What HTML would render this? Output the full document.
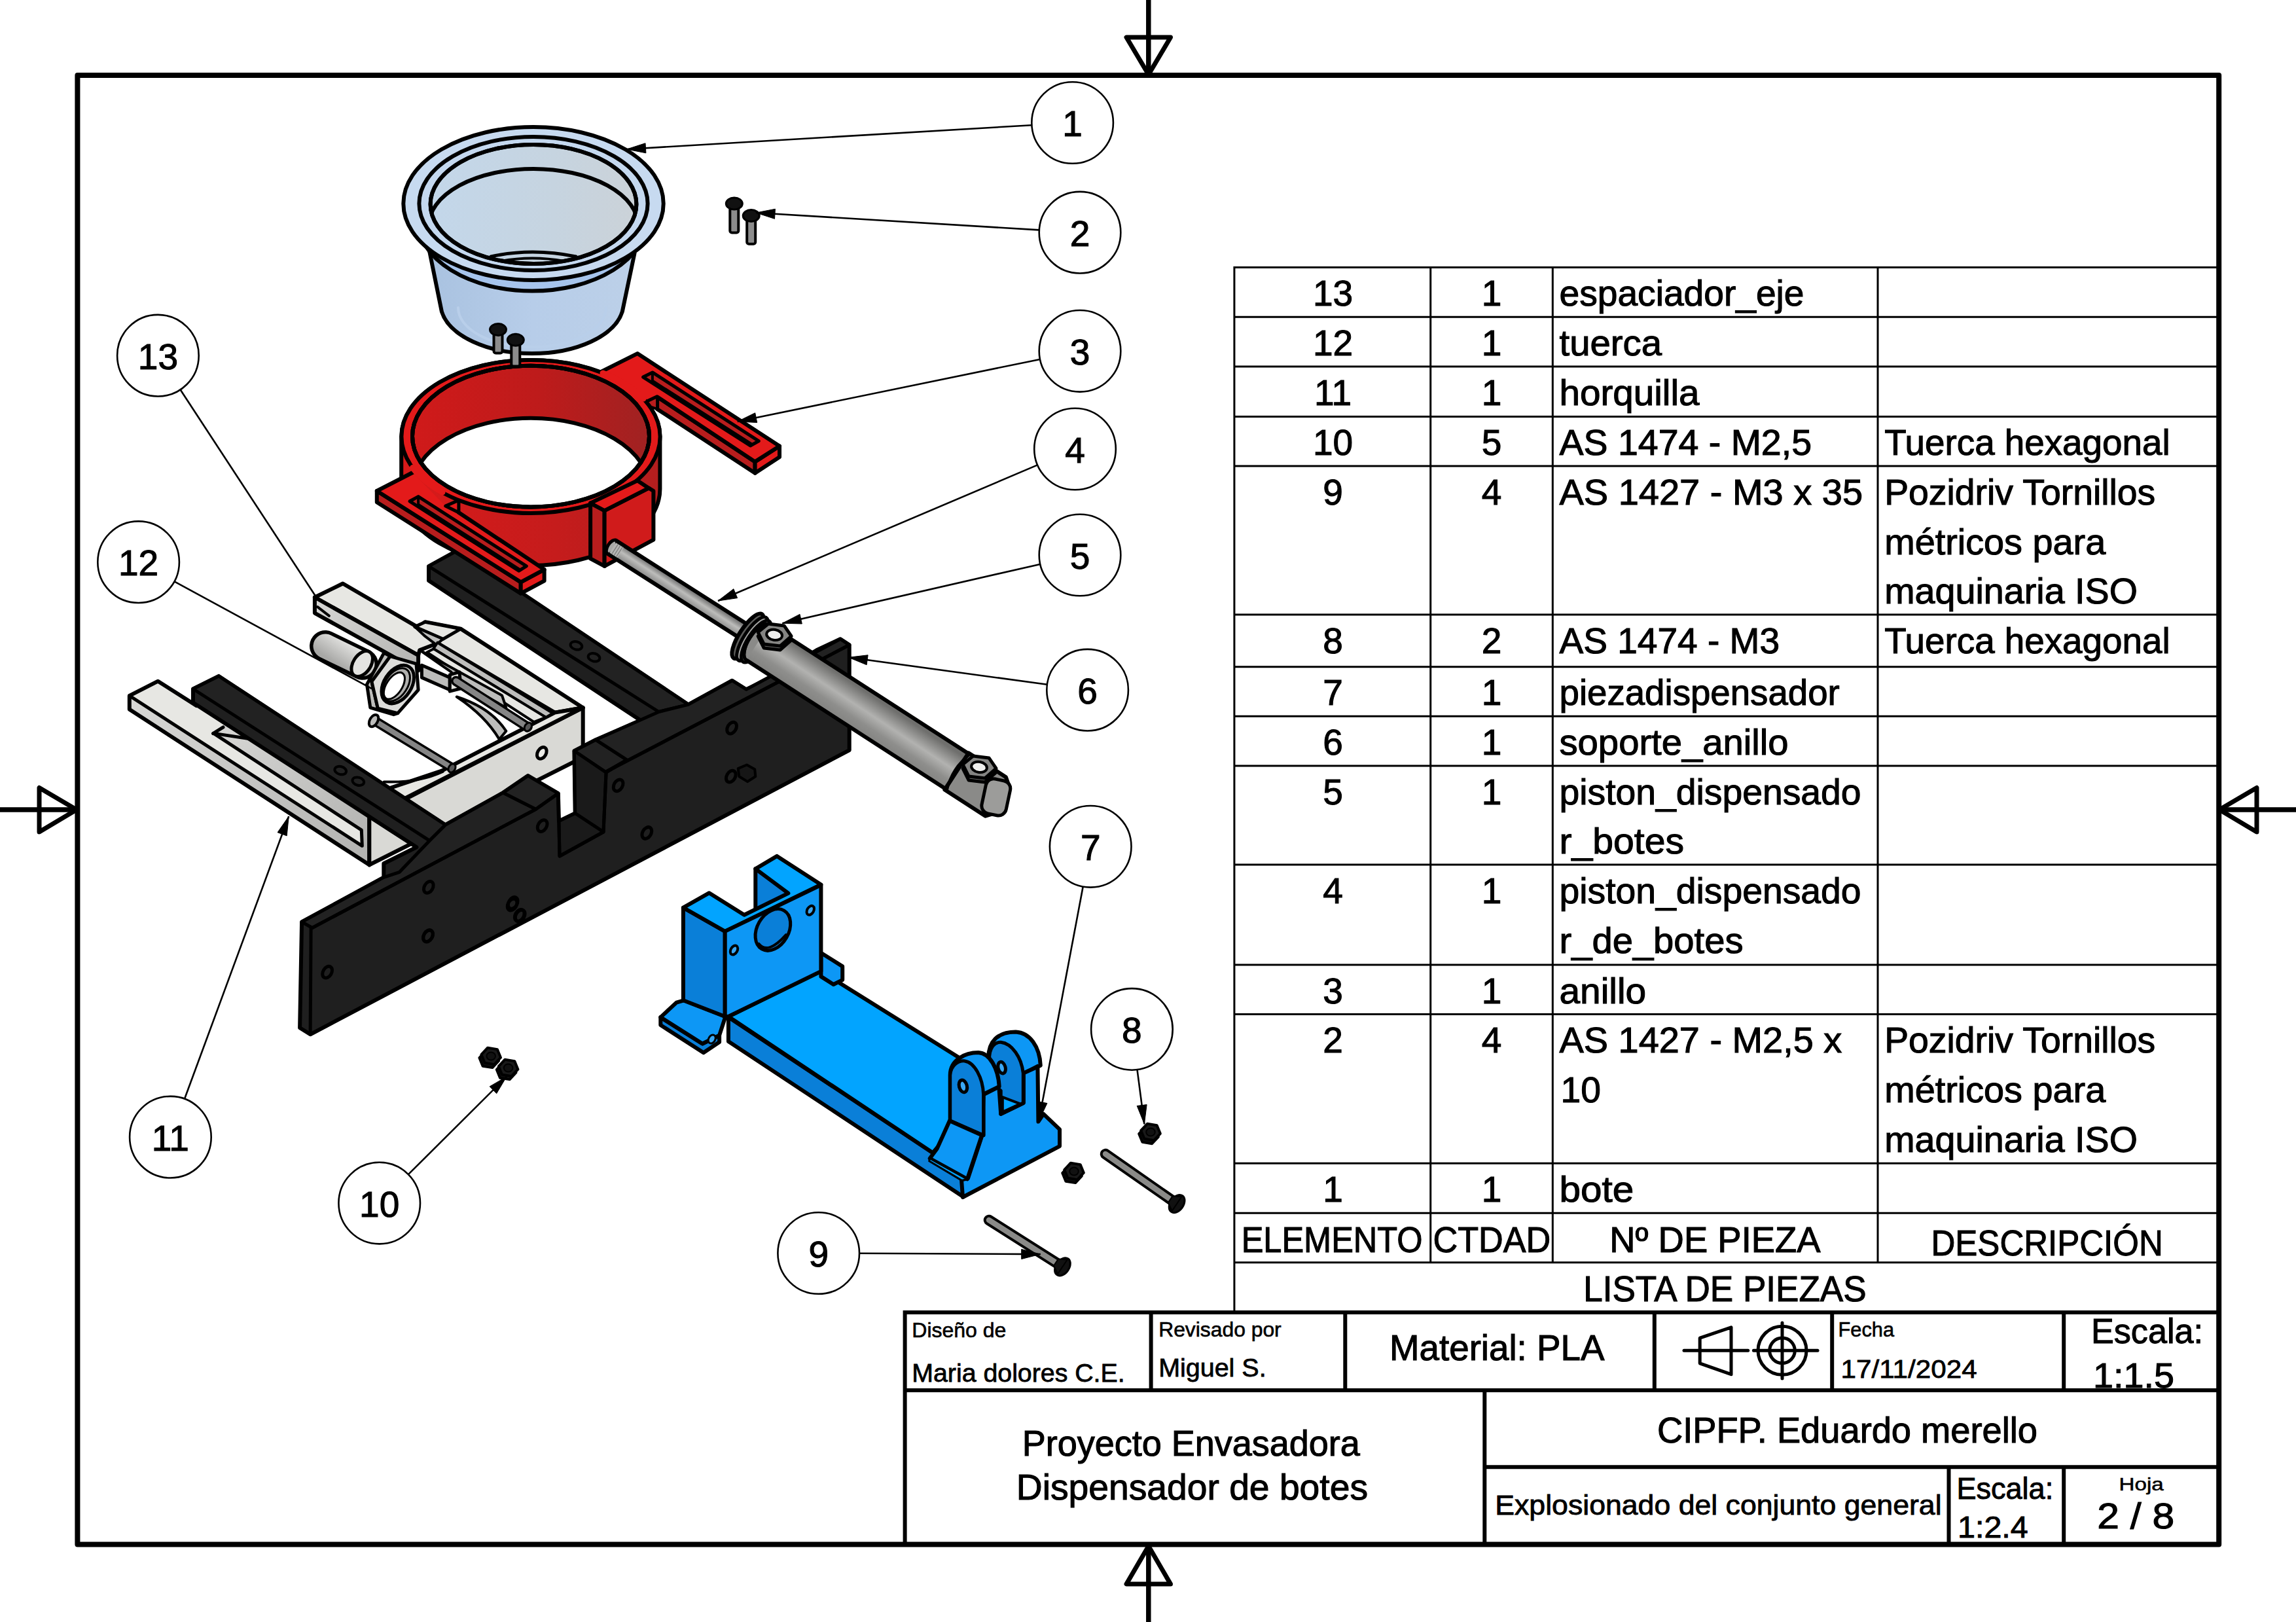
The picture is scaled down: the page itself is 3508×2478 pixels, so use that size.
<!DOCTYPE html><html><head><meta charset="utf-8"><title>Dispensador de botes</title>
<style>html,body{margin:0;padding:0;background:#fff}svg{display:block}text{font-family:"Liberation Sans",sans-serif;fill:#000;stroke:#000}</style></head><body>
<svg width="3508" height="2478" viewBox="0 0 3508 2478">
<rect width="3508" height="2478" fill="#fff"/>
<defs>
<linearGradient id="gCupIn" x1="0" x2="1" y1="0" y2="0"><stop offset="0" stop-color="#c3d7ea"/><stop offset="0.6" stop-color="#c6d4e0"/><stop offset="1" stop-color="#cbd2d8"/></linearGradient>
<linearGradient id="gCupBody" x1="0" x2="1" y1="0" y2="0"><stop offset="0" stop-color="#a9c2e0"/><stop offset="0.5" stop-color="#b7cde9"/><stop offset="1" stop-color="#bcd0e8"/></linearGradient>
<linearGradient id="gRedIn" x1="0" x2="1" y1="0" y2="0"><stop offset="0" stop-color="#d01a1a"/><stop offset="0.55" stop-color="#bd1b1b"/><stop offset="1" stop-color="#a02222"/></linearGradient>
<linearGradient id="gRedOut" x1="0" x2="1" y1="0" y2="0"><stop offset="0" stop-color="#d81a1a"/><stop offset="0.6" stop-color="#c51c1c"/><stop offset="1" stop-color="#b31e1e"/></linearGradient>
<linearGradient id="gCyl" gradientUnits="userSpaceOnUse" x1="1318" y1="1054" x2="1279" y2="1113"><stop offset="0" stop-color="#6f6f6d"/><stop offset="0.35" stop-color="#b2b2b0"/><stop offset="0.6" stop-color="#8e8e8c"/><stop offset="1" stop-color="#7a7a78"/></linearGradient>
<linearGradient id="gRod" gradientUnits="userSpaceOnUse" x1="1037" y1="889" x2="1024" y2="909"><stop offset="0" stop-color="#707070"/><stop offset="0.4" stop-color="#bdbdbb"/><stop offset="1" stop-color="#7c7c7c"/></linearGradient>
<linearGradient id="gGray" x1="0" x2="1" y1="0" y2="1"><stop offset="0" stop-color="#d8d8d6"/><stop offset="1" stop-color="#b2b2b0"/></linearGradient>
<linearGradient id="gSpacer" gradientUnits="userSpaceOnUse" x1="535" y1="975" x2="510" y2="1012"><stop offset="0" stop-color="#ededeb"/><stop offset="1" stop-color="#a8a8a6"/></linearGradient>
<clipPath id="cRingIn"><ellipse cx="811" cy="666.6" rx="181" ry="107.8"/></clipPath>
<clipPath id="cCupIn"><ellipse cx="815" cy="312" rx="157.4" ry="91"/></clipPath>
</defs>
<polygon points="197.8,1062.9 241.4,1040.7 620,1285 564.3,1321.3 197.8,1083.8" fill="#e7e7e3" stroke="none" stroke-width="0" stroke-linejoin="round" />
<polygon points="197.8,1062.9 553.3,1292.3 564.3,1299 564.3,1321.3 197.8,1083.8" fill="url(#gGray)" stroke="none" stroke-width="0" stroke-linejoin="round" />
<polygon points="326.3,1120.4 350,1100 564.3,1240 564.3,1299 552.3,1292.3 552.3,1268.2" fill="url(#gGray)" stroke="none" stroke-width="0" stroke-linejoin="round" />
<polyline points="326.3,1120.4 552.3,1268.2 553.3,1292.3 197.8,1062.9" fill="none" stroke="#000" stroke-width="5" stroke-linejoin="round" stroke-linecap="round" />
<polyline points="326.3,1120.4 378.6,1128.2" fill="none" stroke="#000" stroke-width="5" stroke-linejoin="round" stroke-linecap="round" />
<polyline points="325.5,1120.6 341,1111" fill="none" stroke="#000" stroke-width="5" stroke-linejoin="round" stroke-linecap="round" />
<polyline points="300,1078 241.4,1040.7 197.8,1062.9 197.8,1083.8 564.3,1321.3 564.3,1245" fill="none" stroke="#000" stroke-width="6" stroke-linejoin="round" stroke-linecap="round" />
<polygon points="890.7,1081.2 890.7,1157 564.3,1321.3 564.3,1249.2" fill="#d9d9d5" stroke="#000" stroke-width="6" stroke-linejoin="round" />
<ellipse cx="827.8" cy="1150.4" rx="6.5" ry="9.5" fill="#ecece8" stroke="#000" stroke-width="5" transform="rotate(30 827.8 1150.4)"/>
<polygon points="480.9,912.5 523.8,891.5 639.1,958.6 649.6,950.2 704.1,960.7 890.7,1081.2 847.7,1088.6 668.5,982.7 641.2,993.2 639.1,1001.2" fill="#e7e7e3" stroke="#000" stroke-width="6" stroke-linejoin="round" />
<polygon points="480.9,912.5 639.1,1001.2 639.1,1024.6 480.9,936.6" fill="url(#gGray)" stroke="#000" stroke-width="6" stroke-linejoin="round" />
<polyline points="485.1,927.2 502.9,940.8" fill="none" stroke="#000" stroke-width="4" stroke-linejoin="round" stroke-linecap="round" />
<polygon points="633.9,957.6 649.6,950.2 704.1,960.7 676.9,976.4" fill="#e7e7e3" stroke="#000" stroke-width="5" stroke-linejoin="round" />
<polygon points="633.9,957.6 676.9,976.4 666.4,984.8 649.6,972.2" fill="#bdbdbb" stroke="#000" stroke-width="4" stroke-linejoin="round" />
<path d="M890.7,1081.2 L618.2,1220.0 L586.7,1207.0 L674.8,1177.6 L847.7,1088.6 Z" fill="#e7e7e3" stroke="#000" stroke-width="6" stroke-linejoin="round" stroke-linecap="round" />
<path d="M697.8,1064.5 Q750.2,1081.2 773.3,1116.9 L762.8,1129.4 Q741.8,1093.8 697.8,1064.5 Z" fill="#bdbdbb" stroke="#000" stroke-width="4" stroke-linejoin="round" stroke-linecap="round" />
<path d="M586.7,1194.4 Q639.1,1196.5 676.9,1178.7" fill="none" stroke="#000" stroke-width="4" stroke-linejoin="round" stroke-linecap="round" />
<polygon points="668.5,981.7 844.5,1089.6 834.1,1095.9 662.2,991.1" fill="#bdbdbb" stroke="#000" stroke-width="4" stroke-linejoin="round" />
<polygon points="662.6,991.3 833.9,1095.9 815.6,1103.0 652.3,996.5" fill="#e7e7e3" stroke="#000" stroke-width="4" stroke-linejoin="round" />
<polygon points="641.2,993.2 767.0,1062.4 773.3,1081.2 699.9,1039.3 689.4,1026.7" fill="#bdbdbb" stroke="#000" stroke-width="4" stroke-linejoin="round" />
<polygon points="644.4,1016.2 687.3,1035.1 687.3,1054.0 644.4,1035.1" fill="#bdbdbb" stroke="#000" stroke-width="5" stroke-linejoin="round" />
<polygon points="687.3,1030.9 702.0,1026.7 704.1,1051.9 687.3,1056.1" fill="#e7e7e3" stroke="#000" stroke-width="5" stroke-linejoin="round" />
<line x1="696.8" y1="1040.4" x2="805.8" y2="1110.6" stroke="#000" stroke-width="15.5" stroke-linecap="round"/>
<line x1="696.8" y1="1040.4" x2="805.8" y2="1110.6" stroke="#858585" stroke-width="8.5" stroke-linecap="round"/>
<ellipse cx="806.8" cy="1110.6" rx="5" ry="7" fill="#555" stroke="#000" stroke-width="3" transform="rotate(30 806.8 1110.6)"/>
<line x1="574.1" y1="1102.2" x2="689.4" y2="1172.4" stroke="#000" stroke-width="15.0" stroke-linecap="round"/>
<line x1="574.1" y1="1102.2" x2="689.4" y2="1172.4" stroke="#858585" stroke-width="8" stroke-linecap="round"/>
<ellipse cx="690.5" cy="1173.5" rx="5" ry="7" fill="#555" stroke="#000" stroke-width="3" transform="rotate(30 690.5 1173.5)"/>
<ellipse cx="571.0" cy="1101.1" rx="6" ry="10" fill="#bdbdbb" stroke="#000" stroke-width="4" transform="rotate(30 571.0 1101.1)"/>
<line x1="497" y1="987" x2="553.9" y2="1014.7" stroke="#000" stroke-width="48" stroke-linecap="round"/>
<line x1="497" y1="987" x2="553.9" y2="1014.7" stroke="url(#gSpacer)" stroke-width="37" stroke-linecap="round"/>
<ellipse cx="553.2" cy="1014.1" rx="13.5" ry="21.5" fill="#e3e3e1" stroke="#000" stroke-width="5" transform="rotate(33 553.2 1014.1)"/>
<polygon points="560.5,1045.6 586.7,997.4 596.2,1002.6 567.9,1041.4 577.3,1082.3 607.7,1089.6 601.4,1091.7 565.8,1081.2" fill="#bdbdbb" stroke="#000" stroke-width="5" stroke-linejoin="round" />
<polygon points="596.2,1002.6 636.0,1014.1 639.1,1054.0 607.7,1089.6 577.3,1082.3 567.9,1041.4" fill="#dcdcda" stroke="#000" stroke-width="5" stroke-linejoin="round" />
<ellipse cx="607.7" cy="1045.6" rx="21" ry="32" fill="#c4c4c2" stroke="#000" stroke-width="5" transform="rotate(33 607.7 1045.6)"/>
<ellipse cx="605.6" cy="1046.0" rx="17" ry="28" fill="#b0b0ae" stroke="#000" stroke-width="3" transform="rotate(33 605.6 1046.0)"/>
<ellipse cx="602.4" cy="1047.7" rx="12" ry="23" fill="#fff" stroke="#000" stroke-width="3" transform="rotate(33 602.4 1047.7)"/>
<polygon points="461.1,1408.5 586.3,1340.3 586.3,1319.3 636.4,1294.3 295,1073.4 295,1052.5 334.2,1032.9 680.5,1260.2 768.6,1211.1 806.7,1185.1 852.8,1212.1 854,1254.5 878.7,1242.5 877.4,1147.2 910.2,1130.2 978.6,1100.5 655,887.1 655,865.1 699.5,840.7 1051.7,1076.4 1118.6,1039.7 1140.1,1053.2 1179.7,1035.1 1247.7,993.2 1283.9,976.2 1297.7,985.3 1297.7,1146.1 474.1,1580.3 458.1,1570.3" fill="#1f1f1f" stroke="#000" stroke-width="6" stroke-linejoin="round" />
<polygon points="655,865.1 699.5,840.7 1051.7,1076.4 1006.6,1087.5" fill="#222222" stroke="#000" stroke-width="5" stroke-linejoin="round" />
<polygon points="295,1052.5 334.2,1032.9 680.5,1260.2 656.4,1284.3" fill="#222222" stroke="#000" stroke-width="5" stroke-linejoin="round" />
<polygon points="461.1,1408.5 586.3,1340.3 610.4,1332.3 656.4,1284.3 680.5,1260.2 768.6,1211.1 818.7,1236.2 477.1,1417.5" fill="#222222" stroke="#000" stroke-width="5" stroke-linejoin="round" />
<polygon points="768.6,1211.1 806.7,1185.1 852.8,1212.1 818.7,1236.2" fill="#222222" stroke="#000" stroke-width="5" stroke-linejoin="round" />
<polygon points="877.4,1147.2 910.2,1130.2 957.8,1160.8 926.1,1180.1" fill="#222222" stroke="#000" stroke-width="5" stroke-linejoin="round" />
<polygon points="910.2,1130.2 1006.6,1087.5 1051.7,1076.4 1118.6,1039.7 1140.1,1053.2 1283.9,976.2 1297.7,985.3 926.1,1179 957.8,1160.8" fill="#222222" stroke="#000" stroke-width="5" stroke-linejoin="round" />
<polygon points="877.4,1147.2 926.1,1180.1 922,1271 878.7,1242.5" fill="#1a1a1a" stroke="#000" stroke-width="5" stroke-linejoin="round" />
<polygon points="854,1254.5 878.7,1242.5 922,1271 855,1308" fill="#1a1a1a" stroke="#000" stroke-width="5" stroke-linejoin="round" />
<polyline points="477.1,1417.5 818.7,1236.2 852.8,1212.1 855,1308 922,1271 926.1,1179 1297.7,985.3" fill="none" stroke="#000" stroke-width="5" stroke-linejoin="round" stroke-linecap="round" />
<polyline points="475.1,1418 474.1,1580.3" fill="none" stroke="#000" stroke-width="5" stroke-linejoin="round" stroke-linecap="round" />
<ellipse cx="500.1" cy="1485.2" rx="6.5" ry="9.5" fill="none" stroke="#000" stroke-width="5" transform="rotate(30 500.1 1485.2)"/>
<ellipse cx="654" cy="1429.7" rx="6.5" ry="9.5" fill="none" stroke="#000" stroke-width="5" transform="rotate(30 654 1429.7)"/>
<ellipse cx="782.6" cy="1382" rx="6.5" ry="9.5" fill="none" stroke="#000" stroke-width="5" transform="rotate(30 782.6 1382)"/>
<ellipse cx="794.7" cy="1399" rx="6.5" ry="9.5" fill="none" stroke="#000" stroke-width="5" transform="rotate(30 794.7 1399)"/>
<ellipse cx="944.6" cy="1199.8" rx="6.5" ry="9.5" fill="none" stroke="#000" stroke-width="5" transform="rotate(30 944.6 1199.8)"/>
<ellipse cx="988.3" cy="1272.5" rx="6.5" ry="9.5" fill="none" stroke="#000" stroke-width="5" transform="rotate(30 988.3 1272.5)"/>
<ellipse cx="1118.1" cy="1112.1" rx="6.5" ry="9.5" fill="none" stroke="#000" stroke-width="5" transform="rotate(30 1118.1 1112.1)"/>
<ellipse cx="1116.8" cy="1186.2" rx="6.5" ry="9.5" fill="none" stroke="#000" stroke-width="5" transform="rotate(30 1116.8 1186.2)"/>
<ellipse cx="654.8" cy="1355.4" rx="6.5" ry="9.5" fill="none" stroke="#000" stroke-width="5" transform="rotate(30 654.8 1355.4)"/>
<ellipse cx="654.0" cy="1430.1" rx="6.5" ry="9.5" fill="none" stroke="#000" stroke-width="5" transform="rotate(30 654.0 1430.1)"/>
<ellipse cx="828.7" cy="1261.6" rx="6.5" ry="9.5" fill="none" stroke="#000" stroke-width="5" transform="rotate(30 828.7 1261.6)"/>
<ellipse cx="783.7" cy="1379.4" rx="6.5" ry="9.5" fill="none" stroke="#000" stroke-width="5" transform="rotate(30 783.7 1379.4)"/>
<ellipse cx="793.7" cy="1398.4" rx="6.5" ry="9.5" fill="none" stroke="#000" stroke-width="5" transform="rotate(30 793.7 1398.4)"/>
<ellipse cx="880.4" cy="986.3" rx="9" ry="6" fill="none" stroke="#000" stroke-width="4" transform="rotate(15 880.4 986.3)"/>
<ellipse cx="907.5" cy="1004.3" rx="9" ry="6" fill="none" stroke="#000" stroke-width="4" transform="rotate(15 907.5 1004.3)"/>
<ellipse cx="520.2" cy="1177.1" rx="9" ry="6" fill="none" stroke="#000" stroke-width="4" transform="rotate(15 520.2 1177.1)"/>
<ellipse cx="547.3" cy="1193.7" rx="9" ry="6" fill="none" stroke="#000" stroke-width="4" transform="rotate(15 547.3 1193.7)"/>
<polygon points="1127.7,1174.1 1141.0,1168.5 1153.2,1175.2 1154.3,1186.3 1142.1,1194.1 1129.3,1186.3" fill="#161616" stroke="#000" stroke-width="4" stroke-linejoin="round" />
<polygon points="1004.1,606.2 1153.6,705.4 1153.6,722.7 1004.1,624.9" fill="#b81d1d" stroke="#000" stroke-width="6" stroke-linejoin="round" />
<polygon points="1153.6,705.4 1191.0,681.5 1191.0,698.2 1153.6,722.7" fill="#e31a1a" stroke="#000" stroke-width="6" stroke-linejoin="round" />
<polygon points="904.9,574.6 973.9,540.1 1191.0,681.5 1153.6,705.4 1004.1,606.2 985.4,614.9 991.2,640.7 933.7,606.2" fill="#e31a1a" stroke="#000" stroke-width="6" stroke-linejoin="round" />
<polygon points="985.4,614.9 1004.1,606.2 1004.1,624.9 991.2,620.6" fill="#b81d1d" stroke="#000" stroke-width="4" stroke-linejoin="round" />
<polygon points="982.6,576.1 996.9,568.9 1159.3,673.8 1146.4,681.0" fill="#b81d1d" stroke="#000" stroke-width="5" stroke-linejoin="round" />
<polyline points="996.9,569.4 996.9,581.8 1149.3,679.0" fill="none" stroke="#000" stroke-width="4" stroke-linejoin="round" stroke-linecap="round" />
<path d="M613.2,667 A197.6,117 0 0 1 1008.4,667 L1008.4,747 A197.6,117 0 0 1 613.2,747 Z" fill="url(#gRedOut)" stroke="#000" stroke-width="6" stroke-linejoin="round" stroke-linecap="round" />
<ellipse cx="811" cy="667" rx="197.6" ry="117" fill="#e31a1a" stroke="#000" stroke-width="6"/>
<path d="M921,570 A197.6,117 0 0 1 983,609" fill="none" stroke="#e31a1a" stroke-width="9" stroke-linejoin="round" stroke-linecap="round" />
<ellipse cx="811" cy="666.6" rx="181" ry="107.8" fill="url(#gRedIn)" stroke="#000" stroke-width="6"/>
<g clip-path="url(#cRingIn)">
<ellipse cx="811" cy="746.6" rx="181" ry="107.8" fill="#fff" stroke="#000" stroke-width="6"/>
</g>
<ellipse cx="811" cy="666.6" rx="181" ry="107.8" fill="none" stroke="#000" stroke-width="6"/>
<polygon points="575.8,750.0 795.7,889.4 795.7,906.6 575.8,767.2" fill="#b81d1d" stroke="#000" stroke-width="6" stroke-linejoin="round" />
<polygon points="795.7,889.4 831.6,870.1 831.6,887.4 795.7,906.6" fill="#e31a1a" stroke="#000" stroke-width="6" stroke-linejoin="round" />
<polygon points="575.8,750.0 630.4,722.1 680.7,773.0 700.9,783.0 831.6,870.1 795.7,889.4" fill="#e31a1a" stroke="none" stroke-width="0" stroke-linejoin="round" />
<polygon points="680.7,773.0 700.9,764.3 700.9,783.0" fill="#e31a1a" stroke="#000" stroke-width="5" stroke-linejoin="round" />
<polyline points="631.3,721.5 575.8,750.0 795.7,889.4 831.6,870.1 700.9,783.0" fill="none" stroke="#000" stroke-width="6" stroke-linejoin="round" stroke-linecap="round" />
<path d="M630.4,714.5 A197.6,117 0 0 0 676,752" fill="none" stroke="#e31a1a" stroke-width="9" stroke-linejoin="round" stroke-linecap="round" />
<ellipse cx="811" cy="666.6" rx="181" ry="107.8" fill="none" stroke="#000" stroke-width="6"/>
<polygon points="626.1,765.8 639.1,758.6 804.3,864.9 792.8,872.1" fill="#b81d1d" stroke="#000" stroke-width="5" stroke-linejoin="round" />
<polyline points="639.1,759.2 639.1,770.7 794.3,870.1" fill="none" stroke="#000" stroke-width="4" stroke-linejoin="round" stroke-linecap="round" />
<polygon points="902.1,768.6 923.6,780.1 923.6,864.9 902.1,853.4" fill="#b81d1d" stroke="#000" stroke-width="6" stroke-linejoin="round" />
<polygon points="923.6,780.1 991.2,745.7 998.4,750.0 998.4,824.7 923.6,864.9" fill="#d01b1b" stroke="#000" stroke-width="6" stroke-linejoin="round" />
<polygon points="902.1,768.6 973.9,734.2 991.2,745.7 923.6,780.1" fill="#e31a1a" stroke="#000" stroke-width="6" stroke-linejoin="round" />
<polygon points="941.0,825.6 1154.3,961.7 1141.4,981.9 928.1,845.8" fill="url(#gRod)" stroke="#000" stroke-width="6" stroke-linejoin="round" />
<ellipse cx="934.5" cy="835.7" rx="6" ry="12" fill="#a9a9a7" stroke="#000" stroke-width="5" transform="rotate(32.53787556807482 934.5 835.7)"/>
<polygon points="941.1,829.2 952.9,836.7 943.2,851.9 931.4,844.4" fill="#b5b5b3" stroke="none" stroke-width="0" stroke-linejoin="round" />
<line x1="944.4" y1="831.4" x2="934.7" y2="846.5" stroke="#777" stroke-width="1.2" stroke-linecap="butt"/>
<line x1="947.8" y1="833.5" x2="938.1" y2="848.7" stroke="#777" stroke-width="1.2" stroke-linecap="butt"/>
<line x1="951.2" y1="835.7" x2="941.5" y2="850.8" stroke="#777" stroke-width="1.2" stroke-linecap="butt"/>
<ellipse cx="1142.6" cy="971.8" rx="13" ry="40" fill="#5e5e5c" stroke="#000" stroke-width="6" transform="rotate(32.85437420687591 1142.6 971.8)"/>
<ellipse cx="1149.4" cy="976.2" rx="13" ry="39" fill="#a6a6a4" stroke="#000" stroke-width="5" transform="rotate(32.85437420687591 1149.4 976.2)"/>
<ellipse cx="1155.2" cy="980.0" rx="13" ry="37" fill="#6c6c6a" stroke="#000" stroke-width="5" transform="rotate(32.85437420687591 1155.2 980.0)"/>
<ellipse cx="1157.8" cy="981.6" rx="14" ry="32" fill="#8a8a88" stroke="#000" stroke-width="5" transform="rotate(32.85437420687591 1157.8 981.6)"/>
<polygon points="1175.1,954.7 1479.2,1151.1 1444.5,1204.9 1140.4,1008.5" fill="url(#gCyl)" stroke="none" stroke-width="0" stroke-linejoin="round" />
<line x1="1175.1" y1="954.7" x2="1479.2" y2="1151.1" stroke="#000" stroke-width="6" stroke-linecap="butt"/>
<line x1="1140.4" y1="1008.5" x2="1444.5" y2="1204.9" stroke="#000" stroke-width="6" stroke-linecap="butt"/>
<path d="M1175.1,954.7 A14,32 32.9 0 0 1140.4,1008.5" fill="none" stroke="#000" stroke-width="5" stroke-linejoin="round" stroke-linecap="round" />
<polygon points="1479.8,1150.3 1536.9,1187.2 1542.7,1204.0 1523.2,1241.4 1505.6,1246.7 1443.4,1206.5" fill="#8a8a88" stroke="#000" stroke-width="6" stroke-linejoin="round" />
<rect x="1502.8" y="1190.9" width="38" height="54" rx="12" fill="#9c9c9a" stroke="#000" stroke-width="5" transform="rotate(12 1521.8 1217.9)"/>
<path d="M1481.7,1152.7 Q1454.3,1173.1 1447.0,1206.5" fill="none" stroke="#000" stroke-width="4" stroke-linejoin="round" stroke-linecap="round" />
<polygon points="1158.1,971.9 1174.1,958.9 1198.1,961.9 1209.1,977.9 1192.1,992.9 1167.1,989.9" fill="#6e6e6c" stroke="#000" stroke-width="5" stroke-linejoin="round" />
<polygon points="1158.1,965.9 1174.1,952.9 1198.1,955.9 1209.1,971.9 1192.1,986.9 1167.1,983.9" fill="#858583" stroke="#000" stroke-width="5" stroke-linejoin="round" />
<ellipse cx="1183.1" cy="969.9" rx="12" ry="8" fill="#efefed" stroke="#000" stroke-width="4" transform="rotate(10 1183.1 969.9)"/>
<polygon points="1471.0,1173.9 1487.0,1160.9 1511.0,1163.9 1522.0,1179.9 1505.0,1194.9 1480.0,1191.9" fill="#6e6e6c" stroke="#000" stroke-width="5" stroke-linejoin="round" />
<polygon points="1471.0,1167.9 1487.0,1154.9 1511.0,1157.9 1522.0,1173.9 1505.0,1188.9 1480.0,1185.9" fill="#858583" stroke="#000" stroke-width="5" stroke-linejoin="round" />
<ellipse cx="1496.0" cy="1171.9" rx="12" ry="8" fill="#efefed" stroke="#000" stroke-width="4" transform="rotate(10 1496.0 1171.9)"/>
<path d="M656.2,384 L674.9,476.2 A140,77 0 0 0 950.8,476.2 L969.5,387 Z" fill="url(#gCupBody)" stroke="#000" stroke-width="6" stroke-linejoin="round" stroke-linecap="round" />
<path d="M700,470 A113,60 0 0 0 926,470" fill="none" stroke="#b9cfea" stroke-width="4" stroke-linejoin="round" stroke-linecap="round" />
<ellipse cx="813" cy="336" rx="175" ry="108.6" fill="#a6c4ec" stroke="#000" stroke-width="6"/>
<ellipse cx="815" cy="311" rx="198.7" ry="117" fill="#c7daf0" stroke="#000" stroke-width="6"/>
<ellipse cx="815" cy="311" rx="174.6" ry="102" fill="#c4d8ef" stroke="#000" stroke-width="6"/>
<ellipse cx="815" cy="312" rx="157.4" ry="91" fill="url(#gCupIn)" stroke="#000" stroke-width="6"/>
<g clip-path="url(#cCupIn)">
<path d="M655,345 A158,86 0 0 1 975,345" fill="none" stroke="#000" stroke-width="6" stroke-linejoin="round" stroke-linecap="round" />
<path d="M750,392 Q813,378 880,392" fill="none" stroke="#000" stroke-width="5" stroke-linejoin="round" stroke-linecap="round" />
<path d="M765,399 Q813,390 862,399" fill="none" stroke="#000" stroke-width="4" stroke-linejoin="round" stroke-linecap="round" />
</g>
<ellipse cx="815" cy="312" rx="157.4" ry="91" fill="none" stroke="#000" stroke-width="6"/>
<rect x="754.5" y="503.5" width="13" height="36.0" rx="3" fill="#8c8c8c" stroke="#000" stroke-width="4"/>
<ellipse cx="761" cy="503.5" rx="12.5" ry="9" fill="#111" stroke="#000" stroke-width="3"/>
<rect x="781.3" y="519.3" width="13" height="40.30000000000007" rx="3" fill="#8c8c8c" stroke="#000" stroke-width="4"/>
<ellipse cx="787.8" cy="519.3" rx="12.5" ry="9" fill="#111" stroke="#000" stroke-width="3"/>
<rect x="1115.3" y="311" width="13" height="44.5" rx="3" fill="#8c8c8c" stroke="#000" stroke-width="4"/>
<ellipse cx="1121.8" cy="311" rx="12.5" ry="9" fill="#111" stroke="#000" stroke-width="3"/>
<rect x="1141.2" y="329.6" width="13" height="43.099999999999966" rx="3" fill="#8c8c8c" stroke="#000" stroke-width="4"/>
<ellipse cx="1147.7" cy="329.6" rx="12.5" ry="9" fill="#111" stroke="#000" stroke-width="3"/>
<polygon points="1009.3,1554.1 1073.2,1594.5 1099.1,1581.7 1099.1,1592.0 1074.9,1608.3 1009.3,1566.1" fill="#0a7fd8" stroke="#000" stroke-width="6" stroke-linejoin="round" />
<polygon points="1009.3,1554.1 1033.5,1531.6 1045.6,1528.2 1108.4,1553.0 1099.1,1581.7 1073.2,1594.5" fill="#0d97f5" stroke="#000" stroke-width="6" stroke-linejoin="round" />
<ellipse cx="1087.7" cy="1587.5" rx="5" ry="7" fill="#3aa8f5" stroke="#000" stroke-width="3" transform="rotate(30 1087.7 1587.5)"/>
<polygon points="1112.9,1554.1 1425.3,1761.2 1471.9,1800.9 1471.9,1828.5 1112.9,1591.0" fill="#0a7fd8" stroke="#000" stroke-width="6" stroke-linejoin="round" />
<polygon points="1112.9,1553.0 1253.4,1483.3 1518.5,1649.0 1425.3,1761.2" fill="#02a4ff" stroke="#000" stroke-width="6" stroke-linejoin="round" />
<polygon points="1254.4,1455.7 1287.2,1476.4 1287.2,1497.1 1273.4,1504.0 1254.4,1491.9" fill="#0d97f5" stroke="#000" stroke-width="6" stroke-linejoin="round" />
<polygon points="1154.3,1327.3 1204.4,1360.1 1204.4,1365.3 1154.3,1390.8" fill="#0a7fd8" stroke="#000" stroke-width="6" stroke-linejoin="round" />
<polygon points="1043.9,1386.7 1107.7,1422.9 1107.7,1553.0 1043.9,1528.2" fill="#0a7fd8" stroke="#000" stroke-width="6" stroke-linejoin="round" />
<polygon points="1043.9,1386.7 1083.6,1364.2 1137.1,1397.7 1204.4,1364.6 1154.3,1327.3 1187.1,1307.9 1254.4,1351.4 1107.7,1422.9" fill="#02a4ff" stroke="#000" stroke-width="6" stroke-linejoin="round" />
<polygon points="1107.7,1422.9 1254.4,1352.1 1254.4,1484.0 1112.9,1553.0 1107.7,1553.0" fill="#0d97f5" stroke="#000" stroke-width="6" stroke-linejoin="round" />
<ellipse cx="1180.9" cy="1420.5" rx="24" ry="34" fill="#0a7fd8" stroke="#000" stroke-width="5" transform="rotate(30 1180.9 1420.5)"/>
<path d="M1159.5,1441.9 Q1173.3,1459.1 1200.9,1428.1" fill="none" stroke="#000" stroke-width="4" stroke-linejoin="round" stroke-linecap="round" />
<ellipse cx="1121.5" cy="1451.5" rx="5" ry="7.5" fill="#3aa8f5" stroke="#000" stroke-width="4" transform="rotate(30 1121.5 1451.5)"/>
<ellipse cx="1238.2" cy="1390.8" rx="5" ry="7.5" fill="#3aa8f5" stroke="#000" stroke-width="4" transform="rotate(30 1238.2 1390.8)"/>
<polygon points="1502.6,1672.2 1526.3,1660.3 1529.2,1701.8 1563.7,1685.0 1563.7,1638.6 1585.4,1626.8 1586.4,1713.6 1594.3,1701.8 1619.0,1725.4 1619.0,1751.1 1471.0,1829.0 1469.0,1802.4 1478.9,1800.4 1500.6,1734.3" fill="#0d97f5" stroke="#000" stroke-width="6" stroke-linejoin="round" />
<path d="M1510.5,1622.9 C1507.5,1589.3 1526.3,1576.5 1551.9,1576.5 C1573.6,1577.5 1588.4,1599.2 1589.8,1627.8 L1563.7,1639.6 1563.7,1685.0 1529.2,1701.8 1529.2,1658.4 1510.5,1650.5 Z" fill="#0d97f5" stroke="#000" stroke-width="6" stroke-linejoin="round" stroke-linecap="round" />
<path d="M1511.5,1650.5 L1511.5,1618.9 C1511.5,1599.2 1520.3,1591.7 1529.2,1592.3 C1546.0,1594.3 1560.8,1615.0 1563.3,1639.6 L1563.3,1685.0 1529.2,1701.8 1529.2,1666.3 Z" fill="#0a7fd8" stroke="#000" stroke-width="5" stroke-linejoin="round" stroke-linecap="round" />
<polygon points="1531.8,1676.1 1558.8,1686.4 1531.8,1698.8" fill="#02a4ff" stroke="#000" stroke-width="4" stroke-linejoin="round" />
<ellipse cx="1530.6" cy="1631.1" rx="5.5" ry="9" fill="#3aa8f5" stroke="#000" stroke-width="5" transform="rotate(-15 1530.6 1631.1)"/>
<line x1="1563.7" y1="1639.2" x2="1586.4" y2="1627.2" stroke="#000" stroke-width="4" stroke-linecap="butt"/>
<path d="M1451.7,1642.6 C1451.7,1618.9 1475.0,1608.1 1494.7,1608.1 C1512.4,1609.0 1525.3,1632.7 1526.7,1659.9 L1502.6,1671.8 1502.6,1734.3 1451.7,1712.0 Z" fill="#0d97f5" stroke="#000" stroke-width="6" stroke-linejoin="round" stroke-linecap="round" />
<path d="M1451.7,1712.0 L1451.7,1642.6 C1452.9,1626.8 1465.1,1619.9 1474.0,1620.9 C1488.8,1622.9 1501.6,1646.5 1502.6,1671.8 L1502.6,1734.3 Z" fill="#0a7fd8" stroke="#000" stroke-width="5" stroke-linejoin="round" stroke-linecap="round" />
<ellipse cx="1471.4" cy="1659.4" rx="6" ry="9.5" fill="#3aa8f5" stroke="#000" stroke-width="5" transform="rotate(-15 1471.4 1659.4)"/>
<line x1="1502.6" y1="1671.8" x2="1526.7" y2="1659.9" stroke="#000" stroke-width="4" stroke-linecap="butt"/>
<polygon points="1450.9,1712.2 1500.2,1734.3 1477.9,1801.4 1420.7,1769.8 1431.6,1755.0" fill="#0d97f5" stroke="#000" stroke-width="6" stroke-linejoin="round" />
<polygon points="1420.7,1769.8 1477.9,1801.4 1469.4,1803.4 1419.7,1773.8" fill="#02a4ff" stroke="#000" stroke-width="3" stroke-linejoin="round" />
<polygon points="762.0,1620.7 752.3,1631.1 737.6,1628.7 732.4,1616.1 742.1,1605.7 756.8,1608.1" fill="#0e0e0e" stroke="#000" stroke-width="4" stroke-linejoin="round" />
<polygon points="765.0,1615.7 755.3,1626.1 740.6,1623.7 735.4,1611.1 745.1,1600.7 759.8,1603.1" fill="#191919" stroke="#000" stroke-width="4" stroke-linejoin="round" />
<ellipse cx="750.2" cy="1613.4" rx="6.75" ry="6.0" fill="#111" stroke="#000" stroke-width="2"/>
<polygon points="788.4,1638.7 778.7,1649.1 764.0,1646.7 758.8,1634.1 768.5,1623.7 783.2,1626.1" fill="#0e0e0e" stroke="#000" stroke-width="4" stroke-linejoin="round" />
<polygon points="791.4,1633.7 781.7,1644.1 767.0,1641.7 761.8,1629.1 771.5,1618.7 786.2,1621.1" fill="#191919" stroke="#000" stroke-width="4" stroke-linejoin="round" />
<ellipse cx="776.6" cy="1631.4" rx="6.75" ry="6.0" fill="#111" stroke="#000" stroke-width="2"/>
<polygon points="1769.8,1736.8 1760.1,1747.2 1745.4,1744.8 1740.2,1732.2 1749.9,1721.8 1764.6,1724.2" fill="#0e0e0e" stroke="#000" stroke-width="4" stroke-linejoin="round" />
<polygon points="1772.8,1731.8 1763.1,1742.2 1748.4,1739.8 1743.2,1727.2 1752.9,1716.8 1767.6,1719.2" fill="#191919" stroke="#000" stroke-width="4" stroke-linejoin="round" />
<ellipse cx="1758" cy="1729.5" rx="6.75" ry="6.0" fill="#111" stroke="#000" stroke-width="2"/>
<polygon points="1652.8,1796.7 1643.1,1807.1 1628.4,1804.7 1623.2,1792.1 1632.9,1781.7 1647.6,1784.1" fill="#0e0e0e" stroke="#000" stroke-width="4" stroke-linejoin="round" />
<polygon points="1655.8,1791.7 1646.1,1802.1 1631.4,1799.7 1626.2,1787.1 1635.9,1776.7 1650.6,1779.1" fill="#191919" stroke="#000" stroke-width="4" stroke-linejoin="round" />
<ellipse cx="1641" cy="1789.4" rx="6.75" ry="6.0" fill="#111" stroke="#000" stroke-width="2"/>
<line x1="1689" y1="1763" x2="1798.1" y2="1839.1" stroke="#000" stroke-width="16.5" stroke-linecap="round"/>
<line x1="1689" y1="1763" x2="1798.1" y2="1839.1" stroke="#8a8a88" stroke-width="8.5" stroke-linecap="round"/>
<ellipse cx="1798.1" cy="1839.1" rx="10" ry="15" fill="#111" stroke="#000" stroke-width="3" transform="rotate(35 1798.1 1839.1)"/>
<polygon points="1784.78,1837.36 1791.4999999999998,1827.3999999999999 1805.3799999999999,1828.31 1790.82,1849.8899999999999" fill="#111" stroke="#000" stroke-width="2" stroke-linejoin="round" />
<line x1="1511" y1="1864" x2="1623.4" y2="1935.3" stroke="#000" stroke-width="16.5" stroke-linecap="round"/>
<line x1="1511" y1="1864" x2="1623.4" y2="1935.3" stroke="#8a8a88" stroke-width="8.5" stroke-linecap="round"/>
<ellipse cx="1623.4" cy="1935.3" rx="10" ry="15" fill="#111" stroke="#000" stroke-width="3" transform="rotate(35 1623.4 1935.3)"/>
<polygon points="1610.0800000000002,1933.56 1616.8,1923.6 1630.68,1924.51 1616.1200000000001,1946.09" fill="#111" stroke="#000" stroke-width="2" stroke-linejoin="round" />
<line x1="1576.4" y1="191.2" x2="957.5" y2="228" stroke="#000" stroke-width="2.6" stroke-linecap="butt"/>
<polygon points="957.5,228 986.0,218.8 986.9,233.8" fill="#000" stroke="#000" stroke-width="1" stroke-linejoin="round" />
<ellipse cx="1638.6" cy="187.5" rx="62.3" ry="62.3" fill="#fff" stroke="#000" stroke-width="2.6"/>
<text x="1638.6" y="208.0" font-size="55.0" stroke-width="1.10" text-anchor="middle">1</text>
<line x1="1587.8" y1="351.4" x2="1155" y2="325" stroke="#000" stroke-width="2.6" stroke-linecap="butt"/>
<polygon points="1155,325 1184.4,319.3 1183.5,334.3" fill="#000" stroke="#000" stroke-width="1" stroke-linejoin="round" />
<ellipse cx="1650" cy="355.2" rx="62.3" ry="62.3" fill="#fff" stroke="#000" stroke-width="2.6"/>
<text x="1650.0" y="375.7" font-size="55.0" stroke-width="1.10" text-anchor="middle">2</text>
<line x1="1589.0" y1="548.9" x2="1126.8" y2="644" stroke="#000" stroke-width="2.6" stroke-linecap="butt"/>
<polygon points="1126.8,644 1153.7,630.8 1156.7,645.5" fill="#000" stroke="#000" stroke-width="1" stroke-linejoin="round" />
<ellipse cx="1650" cy="536.3" rx="62.3" ry="62.3" fill="#fff" stroke="#000" stroke-width="2.6"/>
<text x="1650.0" y="556.8" font-size="55.0" stroke-width="1.10" text-anchor="middle">3</text>
<line x1="1585.2" y1="710.4" x2="1097" y2="918" stroke="#000" stroke-width="2.6" stroke-linecap="butt"/>
<polygon points="1097,918 1120.8,899.7 1126.6,913.6" fill="#000" stroke="#000" stroke-width="1" stroke-linejoin="round" />
<ellipse cx="1642.5" cy="686" rx="62.3" ry="62.3" fill="#fff" stroke="#000" stroke-width="2.6"/>
<text x="1642.5" y="706.5" font-size="55.0" stroke-width="1.10" text-anchor="middle">4</text>
<line x1="1589.3" y1="861.9" x2="1195.4" y2="952.2" stroke="#000" stroke-width="2.6" stroke-linecap="butt"/>
<polygon points="1195.4,952.2 1222.0,938.4 1225.3,953.0" fill="#000" stroke="#000" stroke-width="1" stroke-linejoin="round" />
<ellipse cx="1650" cy="848" rx="62.3" ry="62.3" fill="#fff" stroke="#000" stroke-width="2.6"/>
<text x="1650.0" y="868.5" font-size="55.0" stroke-width="1.10" text-anchor="middle">5</text>
<line x1="1599.9" y1="1045.8" x2="1296.4" y2="1004.3" stroke="#000" stroke-width="2.6" stroke-linecap="butt"/>
<polygon points="1296.4,1004.3 1326.1,1000.8 1324.1,1015.7" fill="#000" stroke="#000" stroke-width="1" stroke-linejoin="round" />
<ellipse cx="1661.6" cy="1054.2" rx="62.3" ry="62.3" fill="#fff" stroke="#000" stroke-width="2.6"/>
<text x="1661.6" y="1074.7" font-size="55.0" stroke-width="1.10" text-anchor="middle">6</text>
<line x1="1654.7" y1="1354.5" x2="1587.2" y2="1712.6" stroke="#000" stroke-width="2.6" stroke-linecap="butt"/>
<polygon points="1587.2,1712.6 1585.2,1682.7 1599.9,1685.5" fill="#000" stroke="#000" stroke-width="1" stroke-linejoin="round" />
<ellipse cx="1666.2" cy="1293.3" rx="62.3" ry="62.3" fill="#fff" stroke="#000" stroke-width="2.6"/>
<text x="1666.2" y="1313.8" font-size="55.0" stroke-width="1.10" text-anchor="middle">7</text>
<line x1="1737.5" y1="1634.2" x2="1748.4" y2="1717.3" stroke="#000" stroke-width="2.6" stroke-linecap="butt"/>
<polygon points="1748.4,1717.3 1737.2,1689.5 1752.1,1687.6" fill="#000" stroke="#000" stroke-width="1" stroke-linejoin="round" />
<ellipse cx="1729.4" cy="1572.4" rx="62.3" ry="62.3" fill="#fff" stroke="#000" stroke-width="2.6"/>
<text x="1729.4" y="1592.9" font-size="55.0" stroke-width="1.10" text-anchor="middle">8</text>
<line x1="1313.0" y1="1914.8" x2="1589.7" y2="1916.1" stroke="#000" stroke-width="2.6" stroke-linecap="butt"/>
<polygon points="1589.7,1916.1 1560.7,1923.5 1560.7,1908.5" fill="#000" stroke="#000" stroke-width="1" stroke-linejoin="round" />
<ellipse cx="1250.7" cy="1914.5" rx="62.3" ry="62.3" fill="#fff" stroke="#000" stroke-width="2.6"/>
<text x="1250.7" y="1935.0" font-size="55.0" stroke-width="1.10" text-anchor="middle">9</text>
<line x1="623.9" y1="1794.2" x2="774" y2="1644.8" stroke="#000" stroke-width="2.6" stroke-linecap="butt"/>
<polygon points="774,1644.8 758.7,1670.6 748.2,1659.9" fill="#000" stroke="#000" stroke-width="1" stroke-linejoin="round" />
<ellipse cx="579.7" cy="1838.1" rx="62.3" ry="62.3" fill="#fff" stroke="#000" stroke-width="2.6"/>
<text x="579.7" y="1858.6" font-size="55.0" stroke-width="1.10" text-anchor="middle">10</text>
<line x1="282.0" y1="1678.8" x2="441.2" y2="1247.1" stroke="#000" stroke-width="2.6" stroke-linecap="butt"/>
<polygon points="441.2,1247.1 438.2,1276.9 424.1,1271.7" fill="#000" stroke="#000" stroke-width="1" stroke-linejoin="round" />
<ellipse cx="260.4" cy="1737.2" rx="62.3" ry="62.3" fill="#fff" stroke="#000" stroke-width="2.6"/>
<text x="260.4" y="1757.7" font-size="55.0" stroke-width="1.10" text-anchor="middle">11</text>
<line x1="266.4" y1="888.4" x2="569" y2="1052.7" stroke="#000" stroke-width="2.6" stroke-linecap="butt"/>
<ellipse cx="211.6" cy="858.7" rx="62.3" ry="62.3" fill="#fff" stroke="#000" stroke-width="2.6"/>
<text x="211.6" y="879.2" font-size="55.0" stroke-width="1.10" text-anchor="middle">12</text>
<line x1="275.5" y1="595.3" x2="483.6" y2="913" stroke="#000" stroke-width="2.6" stroke-linecap="butt"/>
<ellipse cx="241.4" cy="543.2" rx="62.3" ry="62.3" fill="#fff" stroke="#000" stroke-width="2.6"/>
<text x="241.4" y="563.7" font-size="55.0" stroke-width="1.10" text-anchor="middle">13</text>
<rect x="118.4" y="115" width="3271.8" height="2244.4" fill="none" stroke="#000" stroke-width="8" stroke-linejoin="round"/>
<line x1="1754.8" y1="0" x2="1754.8" y2="115" stroke="#000" stroke-width="7.5" stroke-linecap="butt"/>
<polygon points="1721,57 1788.5,57 1754.8,114" fill="none" stroke="#000" stroke-width="7" stroke-linejoin="round" />
<line x1="1754.8" y1="2478" x2="1754.8" y2="2359" stroke="#000" stroke-width="7.5" stroke-linecap="butt"/>
<polygon points="1721,2420 1788.5,2420 1754.8,2362" fill="none" stroke="#000" stroke-width="7" stroke-linejoin="round" />
<line x1="0" y1="1237" x2="118" y2="1237" stroke="#000" stroke-width="7.5" stroke-linecap="butt"/>
<polygon points="60,1203.5 60,1271 117,1237" fill="none" stroke="#000" stroke-width="7" stroke-linejoin="round" />
<line x1="3508" y1="1237" x2="3390" y2="1237" stroke="#000" stroke-width="7.5" stroke-linecap="butt"/>
<polygon points="3448,1203.5 3448,1271 3391,1237" fill="none" stroke="#000" stroke-width="7" stroke-linejoin="round" />
<line x1="1885.9" y1="408.6" x2="3388" y2="408.6" stroke="#000" stroke-width="3" stroke-linecap="butt"/>
<line x1="1885.9" y1="484.3" x2="3388" y2="484.3" stroke="#000" stroke-width="3" stroke-linecap="butt"/>
<line x1="1885.9" y1="559.9" x2="3388" y2="559.9" stroke="#000" stroke-width="3" stroke-linecap="butt"/>
<line x1="1885.9" y1="636.5" x2="3388" y2="636.5" stroke="#000" stroke-width="3" stroke-linecap="butt"/>
<line x1="1885.9" y1="712.1" x2="3388" y2="712.1" stroke="#000" stroke-width="3" stroke-linecap="butt"/>
<line x1="1885.9" y1="938.9" x2="3388" y2="938.9" stroke="#000" stroke-width="3" stroke-linecap="butt"/>
<line x1="1885.9" y1="1018.7" x2="3388" y2="1018.7" stroke="#000" stroke-width="3" stroke-linecap="butt"/>
<line x1="1885.9" y1="1094.3" x2="3388" y2="1094.3" stroke="#000" stroke-width="3" stroke-linecap="butt"/>
<line x1="1885.9" y1="1169.9" x2="3388" y2="1169.9" stroke="#000" stroke-width="3" stroke-linecap="butt"/>
<line x1="1885.9" y1="1321.1" x2="3388" y2="1321.1" stroke="#000" stroke-width="3" stroke-linecap="butt"/>
<line x1="1885.9" y1="1474" x2="3388" y2="1474" stroke="#000" stroke-width="3" stroke-linecap="butt"/>
<line x1="1885.9" y1="1549.5" x2="3388" y2="1549.5" stroke="#000" stroke-width="3" stroke-linecap="butt"/>
<line x1="1885.9" y1="1777.2" x2="3388" y2="1777.2" stroke="#000" stroke-width="3" stroke-linecap="butt"/>
<line x1="1885.9" y1="1853.3" x2="3388" y2="1853.3" stroke="#000" stroke-width="3" stroke-linecap="butt"/>
<line x1="1885.9" y1="1928.7" x2="3388" y2="1928.7" stroke="#000" stroke-width="3" stroke-linecap="butt"/>
<line x1="1885.9" y1="407.1" x2="1885.9" y2="2005.5" stroke="#000" stroke-width="3" stroke-linecap="butt"/>
<line x1="2185.7" y1="407.1" x2="2185.7" y2="1928.7" stroke="#000" stroke-width="3" stroke-linecap="butt"/>
<line x1="2372.3" y1="407.1" x2="2372.3" y2="1928.7" stroke="#000" stroke-width="3" stroke-linecap="butt"/>
<line x1="2869" y1="407.1" x2="2869" y2="1928.7" stroke="#000" stroke-width="3" stroke-linecap="butt"/>
<text x="2036.5" y="467.3" font-size="55.0" stroke-width="1.10" text-anchor="middle">13</text>
<text x="2279.0" y="467.3" font-size="55.0" stroke-width="1.10" text-anchor="middle">1</text>
<text x="2382.5" y="467.3" font-size="55.0" stroke-width="1.10" text-anchor="start" textLength="374.0" lengthAdjust="spacingAndGlyphs">espaciador_eje</text>
<text x="2036.5" y="543.0" font-size="55.0" stroke-width="1.10" text-anchor="middle">12</text>
<text x="2279.0" y="543.0" font-size="55.0" stroke-width="1.10" text-anchor="middle">1</text>
<text x="2382.5" y="543.0" font-size="55.0" stroke-width="1.10" text-anchor="start" textLength="156.5" lengthAdjust="spacingAndGlyphs">tuerca</text>
<text x="2036.5" y="618.6" font-size="55.0" stroke-width="1.10" text-anchor="middle">11</text>
<text x="2279.0" y="618.6" font-size="55.0" stroke-width="1.10" text-anchor="middle">1</text>
<text x="2382.5" y="618.6" font-size="55.0" stroke-width="1.10" text-anchor="start" textLength="214.0" lengthAdjust="spacingAndGlyphs">horquilla</text>
<text x="2036.5" y="695.2" font-size="55.0" stroke-width="1.10" text-anchor="middle">10</text>
<text x="2279.0" y="695.2" font-size="55.0" stroke-width="1.10" text-anchor="middle">5</text>
<text x="2382.5" y="695.2" font-size="55.0" stroke-width="1.10" text-anchor="start" textLength="385.5" lengthAdjust="spacingAndGlyphs">AS 1474 - M2,5</text>
<text x="2879.2" y="695.2" font-size="55.0" stroke-width="1.10" text-anchor="start" textLength="436.4" lengthAdjust="spacingAndGlyphs">Tuerca hexagonal</text>
<text x="2036.5" y="770.8" font-size="55.0" stroke-width="1.10" text-anchor="middle">9</text>
<text x="2279.0" y="770.8" font-size="55.0" stroke-width="1.10" text-anchor="middle">4</text>
<text x="2382.5" y="770.8" font-size="55.0" stroke-width="1.10" text-anchor="start" textLength="463.6" lengthAdjust="spacingAndGlyphs">AS 1427 - M3 x 35</text>
<text x="2879.2" y="770.8" font-size="55.0" stroke-width="1.10" text-anchor="start" textLength="414.0" lengthAdjust="spacingAndGlyphs">Pozidriv Tornillos</text>
<text x="2879.2" y="846.6" font-size="55.0" stroke-width="1.10" text-anchor="start" textLength="338.0" lengthAdjust="spacingAndGlyphs">métricos para</text>
<text x="2879.2" y="922.4" font-size="55.0" stroke-width="1.10" text-anchor="start" textLength="386.8" lengthAdjust="spacingAndGlyphs">maquinaria ISO</text>
<text x="2036.5" y="997.6" font-size="55.0" stroke-width="1.10" text-anchor="middle">8</text>
<text x="2279.0" y="997.6" font-size="55.0" stroke-width="1.10" text-anchor="middle">2</text>
<text x="2382.5" y="997.6" font-size="55.0" stroke-width="1.10" text-anchor="start" textLength="336.6" lengthAdjust="spacingAndGlyphs">AS 1474 - M3</text>
<text x="2879.2" y="997.6" font-size="55.0" stroke-width="1.10" text-anchor="start" textLength="436.4" lengthAdjust="spacingAndGlyphs">Tuerca hexagonal</text>
<text x="2036.5" y="1077.4" font-size="55.0" stroke-width="1.10" text-anchor="middle">7</text>
<text x="2279.0" y="1077.4" font-size="55.0" stroke-width="1.10" text-anchor="middle">1</text>
<text x="2382.5" y="1077.4" font-size="55.0" stroke-width="1.10" text-anchor="start" textLength="428.3" lengthAdjust="spacingAndGlyphs">piezadispensador</text>
<text x="2036.5" y="1153.0" font-size="55.0" stroke-width="1.10" text-anchor="middle">6</text>
<text x="2279.0" y="1153.0" font-size="55.0" stroke-width="1.10" text-anchor="middle">1</text>
<text x="2382.5" y="1153.0" font-size="55.0" stroke-width="1.10" text-anchor="start" textLength="350.0" lengthAdjust="spacingAndGlyphs">soporte_anillo</text>
<text x="2036.5" y="1228.6" font-size="55.0" stroke-width="1.10" text-anchor="middle">5</text>
<text x="2279.0" y="1228.6" font-size="55.0" stroke-width="1.10" text-anchor="middle">1</text>
<text x="2382.5" y="1228.6" font-size="55.0" stroke-width="1.10" text-anchor="start" textLength="461.0" lengthAdjust="spacingAndGlyphs">piston_dispensado</text>
<text x="2382.5" y="1304.4" font-size="55.0" stroke-width="1.10" text-anchor="start" textLength="190.5" lengthAdjust="spacingAndGlyphs">r_botes</text>
<text x="2036.5" y="1379.8" font-size="55.0" stroke-width="1.10" text-anchor="middle">4</text>
<text x="2279.0" y="1379.8" font-size="55.0" stroke-width="1.10" text-anchor="middle">1</text>
<text x="2382.5" y="1379.8" font-size="55.0" stroke-width="1.10" text-anchor="start" textLength="461.0" lengthAdjust="spacingAndGlyphs">piston_dispensado</text>
<text x="2382.5" y="1455.6" font-size="55.0" stroke-width="1.10" text-anchor="start" textLength="281.0" lengthAdjust="spacingAndGlyphs">r_de_botes</text>
<text x="2036.5" y="1532.7" font-size="55.0" stroke-width="1.10" text-anchor="middle">3</text>
<text x="2279.0" y="1532.7" font-size="55.0" stroke-width="1.10" text-anchor="middle">1</text>
<text x="2382.5" y="1532.7" font-size="55.0" stroke-width="1.10" text-anchor="start" textLength="132.7" lengthAdjust="spacingAndGlyphs">anillo</text>
<text x="2036.5" y="1608.2" font-size="55.0" stroke-width="1.10" text-anchor="middle">2</text>
<text x="2279.0" y="1608.2" font-size="55.0" stroke-width="1.10" text-anchor="middle">4</text>
<text x="2382.5" y="1608.2" font-size="55.0" stroke-width="1.10" text-anchor="start" textLength="431.7" lengthAdjust="spacingAndGlyphs">AS 1427 - M2,5 x</text>
<text x="2384.6" y="1684.0" font-size="55.0" stroke-width="1.10" text-anchor="start" textLength="61.4" lengthAdjust="spacingAndGlyphs">10</text>
<text x="2879.2" y="1608.2" font-size="55.0" stroke-width="1.10" text-anchor="start" textLength="414.0" lengthAdjust="spacingAndGlyphs">Pozidriv Tornillos</text>
<text x="2879.2" y="1684.0" font-size="55.0" stroke-width="1.10" text-anchor="start" textLength="338.0" lengthAdjust="spacingAndGlyphs">métricos para</text>
<text x="2879.2" y="1759.8" font-size="55.0" stroke-width="1.10" text-anchor="start" textLength="386.8" lengthAdjust="spacingAndGlyphs">maquinaria ISO</text>
<text x="2036.5" y="1835.9" font-size="55.0" stroke-width="1.10" text-anchor="middle">1</text>
<text x="2279.0" y="1835.9" font-size="55.0" stroke-width="1.10" text-anchor="middle">1</text>
<text x="2382.5" y="1835.9" font-size="55.0" stroke-width="1.10" text-anchor="start" textLength="113.7" lengthAdjust="spacingAndGlyphs">bote</text>
<text x="1896.7" y="1912.7" font-size="55.0" stroke-width="1.10" text-anchor="start" textLength="276.8" lengthAdjust="spacingAndGlyphs">ELEMENTO</text>
<text x="2189.6" y="1912.7" font-size="55.0" stroke-width="1.10" text-anchor="start" textLength="179.6" lengthAdjust="spacingAndGlyphs">CTDAD</text>
<text x="2459.3" y="1912.7" font-size="55.0" stroke-width="1.10" text-anchor="start" textLength="322.3" lengthAdjust="spacingAndGlyphs">Nº DE PIEZA</text>
<text x="2950.5" y="1917.9" font-size="55.0" stroke-width="1.10" text-anchor="start" textLength="354.3" lengthAdjust="spacingAndGlyphs">DESCRIPCIÓN</text>
<text x="2419.2" y="1987.8" font-size="55.0" stroke-width="1.10" text-anchor="start" textLength="432.4" lengthAdjust="spacingAndGlyphs">LISTA DE PIEZAS</text>
<line x1="1382.6" y1="2005" x2="3390" y2="2005" stroke="#000" stroke-width="6" stroke-linecap="butt"/>
<line x1="1382.6" y1="2002" x2="1382.6" y2="2359.4" stroke="#000" stroke-width="6" stroke-linecap="butt"/>
<line x1="1382.6" y1="2124" x2="3390" y2="2124" stroke="#000" stroke-width="6" stroke-linecap="butt"/>
<line x1="1758.6" y1="2005" x2="1758.6" y2="2124" stroke="#000" stroke-width="6" stroke-linecap="butt"/>
<line x1="2055.3" y1="2005" x2="2055.3" y2="2124" stroke="#000" stroke-width="6" stroke-linecap="butt"/>
<line x1="2527.8" y1="2005" x2="2527.8" y2="2124" stroke="#000" stroke-width="6" stroke-linecap="butt"/>
<line x1="2799.2" y1="2005" x2="2799.2" y2="2124" stroke="#000" stroke-width="6" stroke-linecap="butt"/>
<line x1="3153.2" y1="2005" x2="3153.2" y2="2124" stroke="#000" stroke-width="6" stroke-linecap="butt"/>
<line x1="2268.3" y1="2124" x2="2268.3" y2="2359.4" stroke="#000" stroke-width="6" stroke-linecap="butt"/>
<line x1="2268.3" y1="2241.3" x2="3390" y2="2241.3" stroke="#000" stroke-width="6" stroke-linecap="butt"/>
<line x1="2977.5" y1="2241.3" x2="2977.5" y2="2359.4" stroke="#000" stroke-width="6" stroke-linecap="butt"/>
<line x1="3153.2" y1="2241.3" x2="3153.2" y2="2359.4" stroke="#000" stroke-width="6" stroke-linecap="butt"/>
<text x="1393.3" y="2042.5" font-size="31.6" stroke-width="0.63" text-anchor="start" textLength="144.1" lengthAdjust="spacingAndGlyphs">Diseño de</text>
<text x="1393.3" y="2110.5" font-size="39.7" stroke-width="0.79" text-anchor="start" textLength="325.3" lengthAdjust="spacingAndGlyphs">Maria dolores C.E.</text>
<text x="1770.2" y="2041.6" font-size="31.6" stroke-width="0.63" text-anchor="start" textLength="187.5" lengthAdjust="spacingAndGlyphs">Revisado por</text>
<text x="1770.2" y="2103.2" font-size="39.7" stroke-width="0.79" text-anchor="start" textLength="164.4" lengthAdjust="spacingAndGlyphs">Miguel S.</text>
<text x="2123.0" y="2077.5" font-size="56.0" stroke-width="1.12" text-anchor="start" textLength="328.4" lengthAdjust="spacingAndGlyphs">Material: PLA</text>
<text x="2808.5" y="2041.7" font-size="31.0" stroke-width="0.62" text-anchor="start" textLength="85.5" lengthAdjust="spacingAndGlyphs">Fecha</text>
<text x="2812.6" y="2104.9" font-size="39.7" stroke-width="0.79" text-anchor="start" textLength="208.0" lengthAdjust="spacingAndGlyphs">17/11/2024</text>
<text x="3195.0" y="2052.0" font-size="54.0" stroke-width="1.08" text-anchor="start" textLength="171.0" lengthAdjust="spacingAndGlyphs">Escala:</text>
<text x="3198.0" y="2120.0" font-size="54.0" stroke-width="1.08" text-anchor="start" textLength="124.0" lengthAdjust="spacingAndGlyphs">1:1.5</text>
<text x="1561.8" y="2223.7" font-size="55.0" stroke-width="1.10" text-anchor="start" textLength="516.0" lengthAdjust="spacingAndGlyphs">Proyecto Envasadora</text>
<text x="1552.8" y="2291.2" font-size="55.0" stroke-width="1.10" text-anchor="start" textLength="537.2" lengthAdjust="spacingAndGlyphs">Dispensador de botes</text>
<text x="2532.0" y="2203.6" font-size="56.0" stroke-width="1.12" text-anchor="start" textLength="581.0" lengthAdjust="spacingAndGlyphs">CIPFP. Eduardo merello</text>
<text x="2284.3" y="2314.0" font-size="43.3" stroke-width="0.87" text-anchor="start" textLength="682.3" lengthAdjust="spacingAndGlyphs">Explosionado del conjunto general</text>
<text x="2989.4" y="2290.0" font-size="45.3" stroke-width="0.91" text-anchor="start" textLength="147.8" lengthAdjust="spacingAndGlyphs">Escala:</text>
<text x="2991.0" y="2349.0" font-size="45.3" stroke-width="0.91" text-anchor="start" textLength="107.7" lengthAdjust="spacingAndGlyphs">1:2.4</text>
<text x="3237.6" y="2276.5" font-size="28.5" stroke-width="0.57" text-anchor="start" textLength="68.2" lengthAdjust="spacingAndGlyphs">Hoja</text>
<text x="3204.2" y="2334.6" font-size="56.0" stroke-width="1.12" text-anchor="start" textLength="118.0" lengthAdjust="spacingAndGlyphs">2 / 8</text>
<line x1="2573" y1="2063.3" x2="2670.7" y2="2063.3" stroke="#000" stroke-width="5" stroke-linecap="round"/>
<polygon points="2597.2,2044.2 2645,2027.8 2645,2099.7 2597.2,2082.8" fill="none" stroke="#000" stroke-width="5" stroke-linejoin="round" />
<ellipse cx="2723" cy="2063.3" rx="37" ry="37" fill="none" stroke="#000" stroke-width="5"/>
<ellipse cx="2723" cy="2063.3" rx="19.3" ry="19.3" fill="none" stroke="#000" stroke-width="5"/>
<line x1="2679.4" y1="2063.3" x2="2777" y2="2063.3" stroke="#000" stroke-width="5" stroke-linecap="round"/>
<line x1="2723" y1="2021" x2="2723" y2="2106" stroke="#000" stroke-width="5" stroke-linecap="round"/>
</svg></body></html>
